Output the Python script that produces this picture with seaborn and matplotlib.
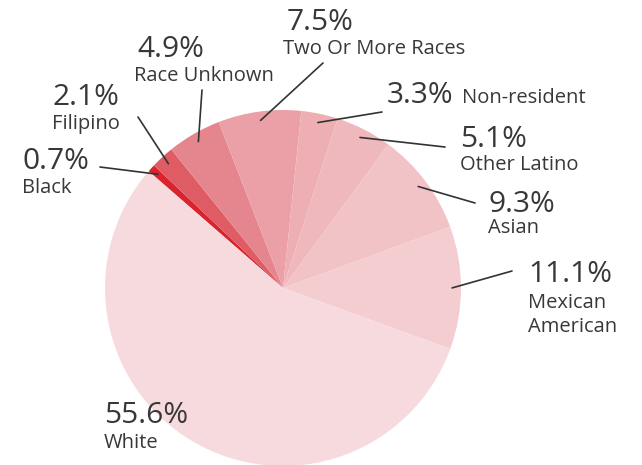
import matplotlib
matplotlib.use("Agg")
import matplotlib.pyplot as plt
import numpy as np
import seaborn as sns

sns.set_theme(style="white")
plt.rcParams['font.family'] = ['Open Sans', 'DejaVu Sans']

# data, clockwise from the red slice
groups = ["Black", "Filipino", "Race Unknown", "Two Or More Races", "Non-resident",
          "Other Latino", "Asian", "Mexican\nAmerican", "White"]
shares = [0.7, 2.1, 4.9, 7.5, 3.3, 5.1, 9.3, 11.1, 55.6]
colours = ["#d9232d", "#df5c65", "#e5868e", "#eaa0a6", "#edafb4",
           "#efb8bd", "#f1c3c7", "#f4cdd1", "#f7dade"]

H = 465
cx, cy, r = 283, H - 288, 178

# label layout in pixel coords: (pct x, pct baseline, name x, name baseline, line start)
label_pos = {
    "Black":             (22, 169, 22, 193, (100, 167)),
    "Filipino":          (53, 105, 52, 129, (138, 117)),
    "Race Unknown":      (137, 57, 134, 81, (202, 90)),
    "Two Or More Races": (287, 30, 283, 54, (323, 63)),
    "Non-resident":      (387, 103, 462, 103, (382, 112)),
    "Other Latino":      (460, 147, 460, 170, (445, 147)),
    "Asian":             (488, 212, 488, 233, (475, 203)),
    "Mexican\nAmerican": (528, 282, 528, 308, (512, 271)),
    "White":             (104, 423, 104, 448, None),
}

fig = plt.figure(figsize=(6.42, 4.65), dpi=100)
ax = fig.add_axes([0, 0, 1, 1])
wedges, _ = ax.pie(shares, colors=sns.color_palette(colours), startangle=139,
                   counterclock=False, center=(cx, cy), radius=r,
                   wedgeprops=dict(linewidth=0))
ax.set_xlim(0, 642)
ax.set_ylim(0, H)
ax.set_aspect('equal')
ax.axis('off')

txt = "#383838"
for w, name, val in zip(wedges, groups, shares):
    px, py, nx, ny, start = label_pos[name]
    ax.text(px, H - py, f"{val}%", fontsize=21.5, color=txt, va="baseline", ha="left")
    for i, row in enumerate(name.split("\n")):
        ax.text(nx, H - ny - 24 * i, row, fontsize=14.5, color=txt, va="baseline", ha="left")
    if start is not None:
        mid = np.deg2rad((w.theta1 + w.theta2) / 2)
        ex, ey = cx + 0.95 * r * np.cos(mid), cy + 0.95 * r * np.sin(mid)
        ax.plot([start[0], ex], [H - start[1], ey], color="#333333", lw=1.2)

fig.savefig("out.png", dpi=100)
